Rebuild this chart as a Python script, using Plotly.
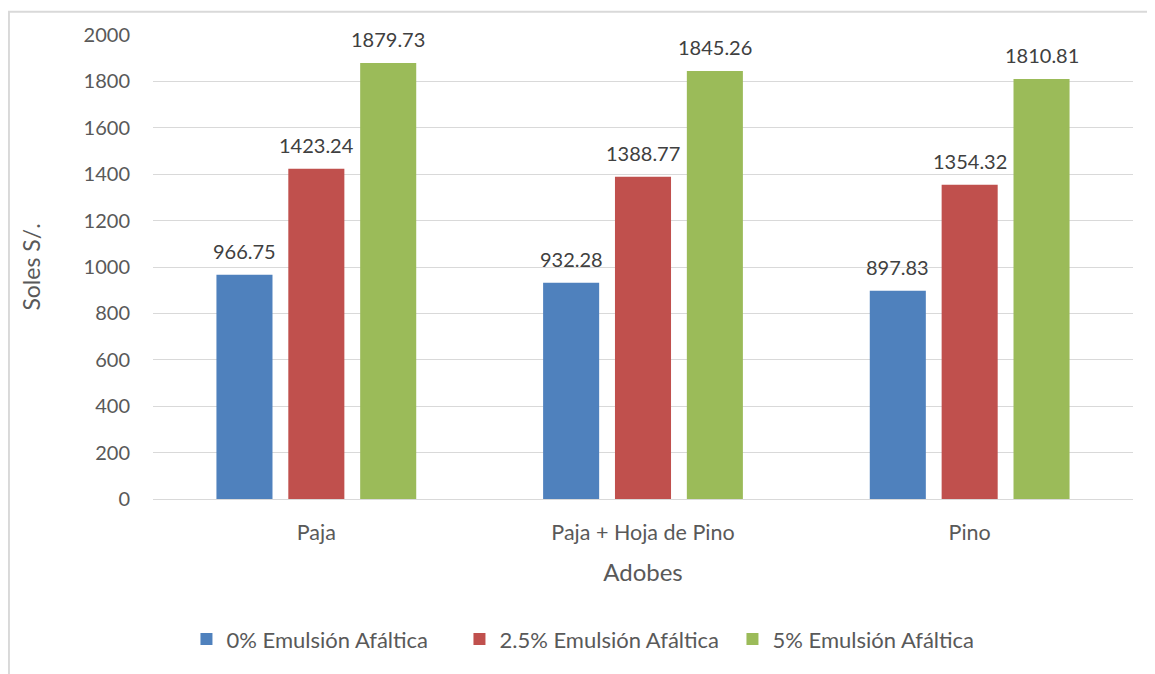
import plotly.graph_objects as go

# data
categories = ["Paja", "Paja + Hoja de Pino", "Pino"]
series_names = ["0% Emulsión Afáltica", "2.5% Emulsión Afáltica", "5% Emulsión Afáltica"]
emulsion_0 = [966.75, 932.28, 897.83]
emulsion_25 = [1423.24, 1388.77, 1354.32]
emulsion_5 = [1879.73, 1845.26, 1810.81]
y_ticks = [0, 200, 400, 600, 800, 1000, 1200, 1400, 1600, 1800, 2000]

colors = ["#4f81bd", "#c0504d", "#9bbb59"]
FONT = "Lato, 'Open Sans', sans-serif"
TXT = "#595959"
SLOT = 72  # px between grouped bar centres (used to place value labels)

fig = go.Figure()
all_series = [emulsion_0, emulsion_25, emulsion_5]
for i, (name, vals, col) in enumerate(zip(series_names, all_series, colors)):
    fig.add_trace(go.Bar(x=categories, y=vals, name=name, marker_color=col,
                         marker_line_width=0))
    for cat, v in zip(categories, vals):
        fig.add_annotation(x=cat, y=v, text=f"{v:.2f}", showarrow=False,
                           xref="x", yref="y", yanchor="bottom",
                           xshift=(i - 1) * SLOT, yshift=10,
                           font=dict(family=FONT, size=20, color="#404040"))

fig.update_layout(
    width=1155, height=674,
    margin=dict(l=145, r=30, t=27, b=183),
    paper_bgcolor="white", plot_bgcolor="white",
    font=dict(family=FONT, size=20, color=TXT),
    barmode="group", bargap=0.34, bargroupgap=0.22,
    showlegend=True,
    legend=dict(orientation="h", x=0.452, xanchor="center", y=-0.302, yanchor="middle",
                font=dict(family=FONT, size=22, color=TXT), itemwidth=30,
                entrywidth=228),
)
fig.update_yaxes(range=[0, 2000], tickvals=y_ticks, showgrid=True, gridcolor="#d9d9d9",
                 gridwidth=1, zeroline=False, showline=False, ticks="",
                 ticklabelstandoff=22,
                 title=dict(text="Soles S/.", font=dict(family=FONT, size=23, color=TXT),
                            standoff=36))
fig.update_xaxes(showline=True, linecolor="#d9d9d9", linewidth=1, ticks="",
                 tickfont=dict(family=FONT, size=21.5, color=TXT),
                 ticklabelstandoff=14,
                 title=dict(text="Adobes", font=dict(family=FONT, size=24, color=TXT),
                            standoff=20))

# outer chart frame (left and top edges visible in the reference crop)
fig.add_shape(type="rect", xref="paper", yref="paper", x0=-0.147, x1=1.2, y0=-0.6, y1=1.05,
              line=dict(color="#d9d9d9", width=2), fillcolor="rgba(0,0,0,0)", layer="below")

fig.write_html("out.html")
